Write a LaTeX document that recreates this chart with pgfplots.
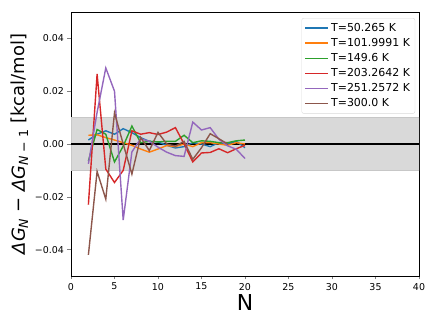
\documentclass[border=0pt]{standalone}
\usepackage{fontspec}
\setmainfont{DejaVu Sans}
\usepackage{pgfplots}
\pgfplotsset{compat=1.18}
\definecolor{c0}{HTML}{1F77B4}
\definecolor{c1}{HTML}{FF7F0E}
\definecolor{c2}{HTML}{2CA02C}
\definecolor{c3}{HTML}{D62728}
\definecolor{c4}{HTML}{9467BD}
\definecolor{c5}{HTML}{8C564B}

\begin{document}
\begin{tikzpicture}
\begin{axis}[
  name=ax, scale only axis,
  width=348bp, height=264bp,
  xmin=0, xmax=40, ymin=-0.05, ymax=0.05,
  xtick={0,5,...,40},
  ytick={-0.04,-0.02,0,0.02,0.04},
  yticklabels={−0.04,−0.02,0.00,0.02,0.04},
  scaled y ticks=false,
  tick align=outside, tick pos=left, major tick length=3.5bp,
  ticklabel style={font=\fontsize{9.5}{11}\selectfont},
  /pgf/number format/assume math mode=true,
  xlabel={N},
  xlabel style={font=\fontsize{22}{26}\selectfont, yshift=2bp},
  ylabel={\textit{ΔG}\textsubscript{\textit{N}} − \textit{ΔG}\textsubscript{\textit{N} − 1} [kcal/mol]},
  ylabel style={font=\fontsize{18}{22}\selectfont},
  legend style={at={(0.989,0.977)}, anchor=north east,
    font=\fontsize{11}{13}\selectfont, draw=black!15, rounded corners=2pt,
    row sep=1.5bp, inner sep=3bp},
  legend cell align=left,
  legend image code/.code={\draw[#1, line width=1.4pt] (0bp,0bp) -- (23bp,0bp);},
  every axis plot/.append style={line width=1.4pt},
]
\addplot[fill=black!15, draw=black!22, line width=0.6pt, forget plot]
  coordinates {(0,-0.01)(40,-0.01)(40,0.01)(0,0.01)} -- cycle;
\addplot[black, line width=1.5pt, forget plot] coordinates {(0,0)(40,0)};

% T=50.265 K
\addplot[c0] coordinates {
  (2,0.0015)(3,0.0037)(4,0.0050)(5,0.0037)(6,0.0058)(7,0.0043)(8,0.0024)
  (9,0.0010)(10,0.0008)(11,-0.0005)(12,-0.0015)(13,-0.0010)(14,0.0005)
  (15,0.0000)(16,-0.0010)(17,0.0005)(18,0.0000)(19,0.0010)(20,-0.0014)};
\addlegendentry{T=50.265 K}
% T=101.9991 K
\addplot[c1] coordinates {
  (2,0.0033)(3,0.0035)(4,0.0024)(5,0.0015)(6,0.0005)(7,-0.0005)(8,-0.0019)
  (9,-0.0031)(10,-0.0019)(11,-0.0006)(12,-0.0010)(13,0.0000)(14,-0.0010)
  (15,0.0005)(16,0.0005)(17,0.0000)(18,-0.0005)(19,0.0005)(20,0.0000)};
\addlegendentry{T=101.9991 K}
% T=149.6 K
\addplot[c2] coordinates {
  (2,-0.0065)(3,0.0055)(4,0.0037)(5,-0.0068)(6,-0.0008)(7,0.0068)(8,0.0005)
  (9,0.0010)(10,0.0008)(11,0.0010)(12,0.0010)(13,0.0033)(14,0.0005)
  (15,0.0012)(16,0.0010)(17,0.0005)(18,0.0005)(19,0.0012)(20,0.0015)};
\addlegendentry{T=149.6 K}
% T=203.2642 K
\addplot[c3] coordinates {
  (2,-0.0230)(3,0.0265)(4,-0.0095)(5,-0.0146)(6,-0.0100)(7,0.0050)(8,0.0037)
  (9,0.0043)(10,0.0036)(11,0.0045)(12,0.0062)(13,0.0000)(14,-0.0068)
  (15,-0.0034)(16,-0.0032)(17,-0.0018)(18,-0.0033)(19,-0.0018)(20,-0.0005)};
\addlegendentry{T=203.2642 K}
% T=251.2572 K
\addplot[c4] coordinates {
  (2,-0.0075)(3,0.0120)(4,0.0288)(5,0.0200)(6,-0.0288)(7,-0.0030)(8,0.0020)
  (9,0.0010)(10,-0.0012)(11,-0.0031)(12,-0.0044)(13,-0.0047)(14,0.0083)
  (15,0.0053)(16,0.0062)(17,0.0018)(18,-0.0007)(19,-0.0020)(20,-0.0055)};
\addlegendentry{T=251.2572 K}
% T=300.0 K
\addplot[c5] coordinates {
  (2,-0.0420)(3,-0.0104)(4,-0.0209)(5,0.0118)(6,0.0000)(7,-0.0114)(8,0.0025)
  (9,-0.0025)(10,0.0044)(11,0.0000)(12,-0.0008)(13,0.0010)(14,-0.0058)
  (15,-0.0014)(16,0.0039)(17,0.0020)(18,0.0000)};
\addlegendentry{T=300.0 K}
\end{axis}
\useasboundingbox ([shift={(-71bp,-51bp)}]ax.south west) rectangle ([shift={(17bp,12bp)}]ax.north east);
\end{tikzpicture}
\end{document}
